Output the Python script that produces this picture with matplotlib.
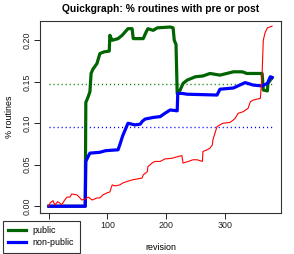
import matplotlib
matplotlib.use("Agg")
import matplotlib.pyplot as plt

plt.rcParams['font.family'] = ['Liberation Sans', 'DejaVu Sans']

# public (green)
pub_rev = [0, 62, 63, 67, 70, 72, 75, 82, 87, 94, 103, 104, 108, 118, 125, 130, 135, 142, 144,
           161, 166, 169, 178, 185, 207, 212, 214, 217, 219, 224, 229, 236, 250, 263, 275, 292,
           315, 330, 338, 364, 366, 373, 374, 381]
pub_val = [0.0, 0.0, 0.125, 0.132, 0.138, 0.160, 0.165, 0.172, 0.184, 0.186, 0.187, 0.206, 0.200,
           0.202, 0.206, 0.210, 0.214, 0.214, 0.202, 0.202, 0.210, 0.214, 0.212, 0.215, 0.216,
           0.215, 0.200, 0.195, 0.136, 0.140, 0.148, 0.152, 0.156, 0.157, 0.160, 0.158, 0.162,
           0.162, 0.160, 0.160, 0.140, 0.139, 0.148, 0.155]

# non-public (blue)
npub_rev = [0, 62, 63, 67, 70, 87, 97, 118, 121, 126, 132, 135, 147, 156, 159, 164, 178, 190,
            198, 207, 219, 220, 227, 236, 287, 292, 315, 335, 349, 364, 373, 378, 381]
npub_val = [0.0, 0.0, 0.054, 0.060, 0.064, 0.065, 0.067, 0.068, 0.074, 0.085, 0.095, 0.100,
            0.098, 0.099, 0.102, 0.105, 0.107, 0.108, 0.112, 0.116, 0.115, 0.136, 0.136, 0.135,
            0.134, 0.141, 0.1425, 0.149, 0.146, 0.145, 0.148, 0.156, 0.155]

# third series (red)
red_rev = [0, 2, 7, 10, 15, 22, 27, 31, 36, 39, 48, 53, 56, 62, 67, 74, 82, 87, 92, 99, 104,
           108, 113, 121, 126, 133, 142, 159, 161, 168, 169, 176, 181, 190, 198, 210, 221, 227,
           229, 238, 246, 253, 262, 263, 270, 275, 279, 280, 287, 292, 297, 309, 315, 318, 323,
           332, 340, 344, 349, 361, 364, 366, 369, 373, 381]
red_val = [0.0, 0.004, 0.0067, 0.0015, 0.0055, 0.002, 0.0075, 0.011, 0.011, 0.0148, 0.0136,
           0.010, 0.0075, 0.0088, 0.011, 0.0075, 0.010, 0.010, 0.0136, 0.016, 0.0172, 0.0257,
           0.0245, 0.0257, 0.028, 0.0297, 0.0317, 0.034, 0.0377, 0.0417, 0.0477, 0.052, 0.054,
           0.054, 0.057, 0.0578, 0.060, 0.061, 0.052, 0.054, 0.056, 0.056, 0.054, 0.066, 0.068,
           0.070, 0.074, 0.080, 0.096, 0.098, 0.100, 0.101, 0.104, 0.106, 0.112, 0.114, 0.118,
           0.126, 0.128, 0.130, 0.160, 0.200, 0.209, 0.215, 0.217]

pub_mean = 0.147
npub_mean = 0.095

x_ticks = [0, 100, 200, 300]
x_tick_labels = ["", "100", "200", "300"]  # "0" is hidden under the legend
y_ticks = [0.00, 0.05, 0.10, 0.15, 0.20]
y_tick_labels = ["0.00", "0.05", "0.10", "0.15", "0.20"]

W, H = 294, 254
fig = plt.figure(figsize=(W / 100, H / 100), dpi=100)
ax = fig.add_axes([40 / W, 1 - 212.7 / H, 241 / W, 192 / H])

ax.plot([0, 381], [pub_mean, pub_mean], color='#008000', lw=1.0, linestyle=(0, (0.8, 2.1)))
ax.plot([0, 381], [npub_mean, npub_mean], color='#0000ff', lw=1.0, linestyle=(0, (0.8, 2.1)))
ax.plot(pub_rev, pub_val, color='#006400', lw=2.3, solid_joinstyle='round')
ax.plot(npub_rev, npub_val, color='#0000ff', lw=2.3, solid_joinstyle='round')
ax.plot(red_rev, red_val, color='#ff0000', lw=0.8)

ax.set_xlim(-15.24, 396.24)
ax.set_ylim(-0.0078, 0.2236)
ax.set_xticks(x_ticks)
ax.set_xticklabels(x_tick_labels)
ax.set_yticks(y_ticks)
ax.set_yticklabels(y_tick_labels, rotation=90, va='center')
ax.tick_params(axis='both', direction='out', length=4, width=0.7, labelsize=6.4, pad=2,
               colors='#222222')
for s in ax.spines.values():
    s.set_linewidth(0.8)
    s.set_color('#333333')

ax.set_title("Quickgraph: % routines with pre or post", fontsize=7.4, fontweight='bold', pad=6)
ax.set_xlabel("revision", fontsize=6.4, labelpad=9)
ax.set_ylabel("% routines", fontsize=6.4, labelpad=6)

from matplotlib.lines import Line2D
handles = [Line2D([], [], color='#006400', lw=2.3), Line2D([], [], color='#0000ff', lw=2.3)]
leg = fig.legend(handles, ["public", "non-public"], loc='lower left',
                 bbox_to_anchor=(2.5 / W, 1.5 / H), fontsize=6.4, frameon=True,
                 fancybox=False, framealpha=1, edgecolor='#333333', borderaxespad=0,
                 handlelength=2.0, handletextpad=0.8, borderpad=0.6, labelspacing=0.35)
leg.get_frame().set_linewidth(0.8)
leg.set_zorder(10)

fig.savefig("out.png", dpi=100)
